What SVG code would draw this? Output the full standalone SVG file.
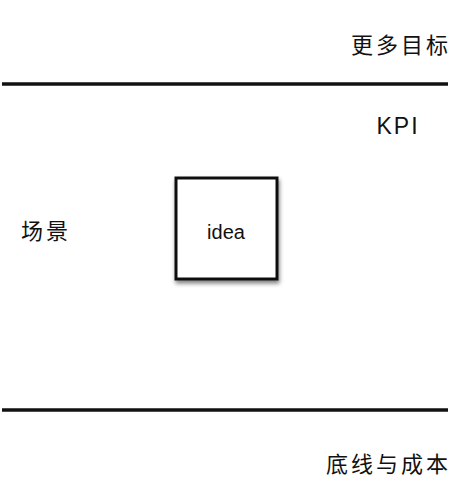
<svg xmlns="http://www.w3.org/2000/svg" width="452" height="480" viewBox="0 0 452 480">
<defs>
<style>
.t{font-family:"Noto Sans CJK SC","Noto Sans",sans-serif;font-size:22px;fill:#111;letter-spacing:3px}
.line{stroke:#111;stroke-width:3.5}
</style>
<filter id="sh" x="-20%" y="-20%" width="140%" height="140%">
<feGaussianBlur in="SourceAlpha" stdDeviation="2"/>
<feOffset dx="1" dy="3"/>
<feComponentTransfer><feFuncA type="linear" slope="0.5"/></feComponentTransfer>
<feMerge><feMergeNode/><feMergeNode in="SourceGraphic"/></feMerge>
</filter>
</defs>
<rect width="452" height="480" fill="#fff"/>
<g id="connectors">
<line class="line" x1="2" y1="84" x2="448" y2="84"/>
<line class="line" x1="2" y1="410" x2="448" y2="410"/>
</g>
<g id="goal"><text class="t" x="451" y="53" text-anchor="end">更多目标</text></g>
<g id="kpi"><text x="398" y="134" text-anchor="middle" style="font-family:'Liberation Sans',sans-serif;font-size:23px;letter-spacing:2px;fill:#111">KPI</text></g>
<g id="scene"><text class="t" x="46" y="239" text-anchor="middle">场景</text></g>
<g id="idea">
<rect x="176" y="178" width="101" height="101" fill="#fff" stroke="#111" stroke-width="3" filter="url(#sh)"/>
<text x="226" y="239" text-anchor="middle" style="font-family:'Liberation Sans',sans-serif;font-size:20px;fill:#111">idea</text>
</g>
<g id="base"><text class="t" x="451" y="472" text-anchor="end">底线与成本</text></g>
</svg>
